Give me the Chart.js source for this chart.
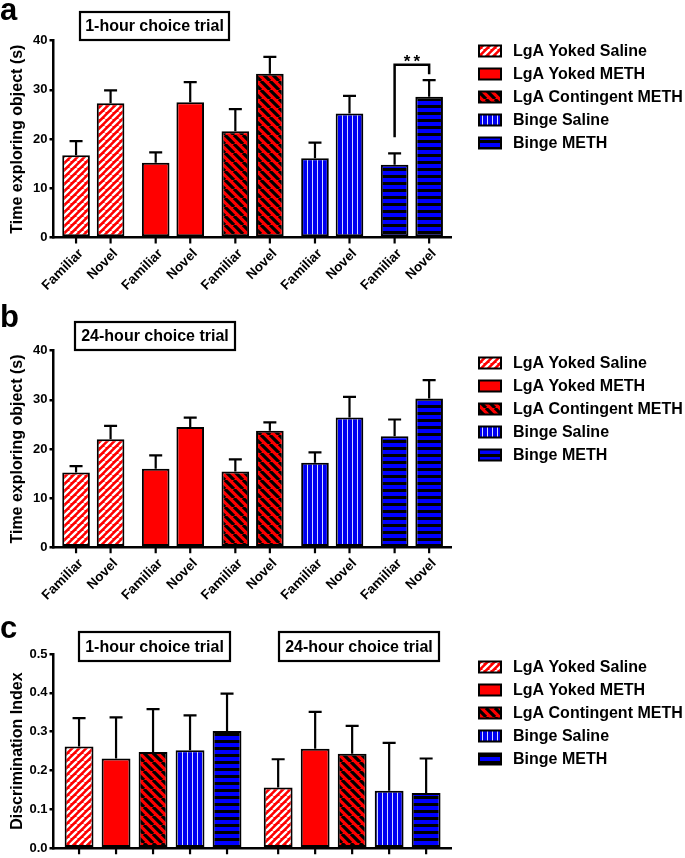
<!DOCTYPE html>
<html>
<head>
<meta charset="utf-8">
<script src="https://cdn.jsdelivr.net/npm/chart.js@4.4.1/dist/chart.umd.min.js"></script>
<style>
  html, body { margin: 0; padding: 0; background: #fff; }
  #wrap { position: relative; width: 685px; height: 858px; overflow: hidden; }
  canvas { position: absolute; left: 0; }
</style>
</head>
<body>
<div id="wrap">
  <canvas id="chartA" width="685" height="300" style="top:0px"></canvas>
  <canvas id="chartB" width="685" height="300" style="top:300px"></canvas>
  <canvas id="chartC" width="685" height="258" style="top:600px"></canvas>
</div>
<script>
var groups = ["LgA Yoked Saline", "LgA Yoked METH", "LgA Contingent METH", "Binge Saline", "Binge METH"];
var objects = ["Familiar", "Novel"];
var trials = ["1-hour choice trial", "24-hour choice trial"];

// a: 1-hour trial, time exploring (s), mean and SEM per group
var hour1Familiar = [16.7, 15.2, 21.6, 16.1, 14.8];
var hour1FamiliarSem = [2.9, 2.1, 4.5, 3.2, 2.3];
var hour1Novel = [27.3, 27.5, 33.3, 25.2, 28.6];
var hour1NovelSem = [2.6, 4.1, 3.4, 3.6, 3.4];

// b: 24-hour trial
var hour24Familiar = [15.2, 16.0, 15.4, 17.2, 22.6];
var hour24FamiliarSem = [1.3, 2.7, 2.5, 2.1, 3.4];
var hour24Novel = [22.0, 24.5, 23.7, 26.4, 30.3];
var hour24NovelSem = [2.7, 1.9, 1.7, 4.2, 3.7];

// c: discrimination index per group, [1-hour, 24-hour]
var discIndex = [[0.262, 0.156], [0.231, 0.256], [0.248, 0.243], [0.252, 0.148], [0.302, 0.142]];
var discSem = [[0.073, 0.073], [0.106, 0.095], [0.110, 0.072], [0.090, 0.123], [0.096, 0.089]];

var timeTicks = [0, 10, 20, 30, 40];
var indexTicks = [0.0, 0.1, 0.2, 0.3, 0.4, 0.5];

var FONT = "'Liberation Sans', Arial, sans-serif";
Chart.defaults.font.family = FONT;
Chart.defaults.color = '#000';

function stripes(ctx, s, bg, fg, w, up) {
  var c = document.createElement('canvas');
  c.width = c.height = s;
  var g = c.getContext('2d');
  g.fillStyle = bg;
  g.fillRect(0, 0, s, s);
  g.strokeStyle = fg;
  g.lineWidth = w;
  g.beginPath();
  for (var k = -1; k <= 1; k++) {
    if (up) { g.moveTo(k * s, s); g.lineTo(k * s + s, 0); }
    else { g.moveTo(k * s, 0); g.lineTo(k * s + s, s); }
  }
  g.stroke();
  return ctx.createPattern(c, 'repeat');
}

function bands(ctx, w, h, bg, fg, vertical) {
  var c = document.createElement('canvas');
  c.width = w; c.height = h;
  var g = c.getContext('2d');
  g.fillStyle = bg;
  g.fillRect(0, 0, w, h);
  g.fillStyle = fg;
  if (vertical) g.fillRect(2, 0, 1, h);
  else g.fillRect(0, 0, w, 3);
  return ctx.createPattern(c, 'repeat');
}

function groupFills(ctx) {
  return [
    stripes(ctx, 7, '#ff0000', '#ffffff', 2.3, true),
    '#ff0000',
    stripes(ctx, 9, '#ff0000', '#000000', 3.2, false),
    bands(ctx, 5, 5, '#0000f0', '#d4d8ff', true),
    bands(ctx, 7, 7, '#0000ff', '#000000', false)
  ];
}

// titles, legend, error bars, ticks under each bar, x labels
var decor = {
  id: 'decor',
  afterDatasetsDraw: function (chart, args, o) {
    var ctx = chart.ctx, y = chart.scales.y, area = chart.chartArea;
    ctx.save();
    ctx.strokeStyle = '#000';
    ctx.fillStyle = '#000';
    ctx.lineWidth = 2.2;
    chart.data.datasets.forEach(function (ds, i) {
      chart.getDatasetMeta(i).data.forEach(function (bar, j) {
        var top = y.getPixelForValue(ds.data[j]);
        var end = y.getPixelForValue(ds.data[j] + o.errors[i][j]);
        ctx.beginPath();
        ctx.moveTo(bar.x, top); ctx.lineTo(bar.x, end);
        ctx.moveTo(bar.x - 6.5, end); ctx.lineTo(bar.x + 6.5, end);
        ctx.moveTo(bar.x, area.bottom); ctx.lineTo(bar.x, area.bottom + 6);
        ctx.stroke();
        if (o.xLabels) {
          ctx.save();
          ctx.translate(bar.x + 5, area.bottom + 14);
          ctx.rotate(-Math.PI / 4);
          ctx.font = 'bold 13.5px ' + FONT;
          ctx.textAlign = 'right';
          ctx.textBaseline = 'middle';
          ctx.fillText(ds.label, 0, 0);
          ctx.restore();
        }
      });
    });

    if (o.bracket) {
      var b = o.bracket;
      var x1 = chart.getDatasetMeta(0).data[b.group].x;
      var x2 = chart.getDatasetMeta(1).data[b.group].x;
      var yt = y.getPixelForValue(b.top);
      ctx.lineWidth = 2.5;
      ctx.beginPath();
      ctx.moveTo(x1, y.getPixelForValue(b.from));
      ctx.lineTo(x1, yt);
      ctx.lineTo(x2, yt);
      ctx.lineTo(x2, y.getPixelForValue(b.to));
      ctx.stroke();
      ctx.font = 'bold 17px ' + FONT;
      ctx.letterSpacing = '3px';
      ctx.textAlign = 'center';
      ctx.textBaseline = 'alphabetic';
      ctx.fillText(b.text, (x1 + x2) / 2 + 1.5, yt + 2);
      ctx.letterSpacing = '0px';
    }

    // panel letter
    ctx.font = 'bold 31px ' + FONT;
    ctx.textAlign = 'left';
    ctx.textBaseline = 'alphabetic';
    ctx.fillText(o.letter, 0, o.letterY);

    // boxed trial titles
    ctx.lineWidth = 2.2;
    ctx.font = 'bold 16px ' + FONT;
    ctx.textAlign = 'center';
    ctx.textBaseline = 'middle';
    o.boxes.forEach(function (bx) {
      ctx.fillStyle = '#fff';
      ctx.fillRect(bx.x, bx.y, bx.w, bx.h);
      ctx.strokeRect(bx.x, bx.y, bx.w, bx.h);
      ctx.fillStyle = '#000';
      ctx.fillText(bx.text, bx.x + bx.w / 2, bx.y + bx.h / 2 + 1);
    });

    // legend
    ctx.textAlign = 'left';
    ctx.lineWidth = 2;
    groups.forEach(function (name, g) {
      var cy = o.legendY + g * 23;
      ctx.fillStyle = o.fills[g];
      ctx.fillRect(479, cy - 5.5, 22, 11);
      ctx.strokeRect(479, cy - 5.5, 22, 11);
      ctx.fillStyle = '#000';
      ctx.fillText(name, 513, cy + 1);
    });
    ctx.restore();
  }
};

function axisY(ticks, title, fmt) {
  return {
    min: ticks[0],
    max: ticks[ticks.length - 1],
    afterFit: function (s) { s.width = 53.5; },
    ticks: {
      stepSize: ticks[1] - ticks[0],
      padding: 2,
      font: { size: 13, weight: 'bold' },
      color: '#000',
      callback: fmt
    },
    grid: { drawOnChartArea: false, drawTicks: true, tickLength: 4, lineWidth: 2.5, tickWidth: 2.5, tickColor: '#000' },
    border: { display: true, color: '#000', width: 2.5 },
    title: { display: true, text: title, font: { size: 16, weight: 'bold' }, color: '#000', padding: { top: 8, bottom: 0 } }
  };
}

function axisX(height) {
  return {
    type: 'category',
    afterFit: function (s) { s.height = height; },
    ticks: { display: false },
    grid: { display: false },
    border: { display: true, color: '#000', width: 2.5 }
  };
}

function timeChart(id, familiar, familiarSem, novel, novelSem, extra) {
  var canvas = document.getElementById(id);
  var fills = groupFills(canvas.getContext('2d'));
  var base = {
    borderColor: '#000',
    borderWidth: 2,
    borderSkipped: false,
    backgroundColor: fills,
    barPercentage: 0.8,
    categoryPercentage: 0.867
  };
  return new Chart(canvas, {
    type: 'bar',
    data: {
      labels: groups,
      datasets: [
        Object.assign({ label: objects[0], data: familiar }, base),
        Object.assign({ label: objects[1], data: novel }, base)
      ]
    },
    options: {
      responsive: false,
      animation: false,
      layout: { padding: { left: 0, top: extra.top, right: 233.3, bottom: 0 } },
      plugins: {
        legend: { display: false },
        tooltip: { enabled: false },
        decor: Object.assign({ errors: [familiarSem, novelSem], fills: fills, xLabels: true }, extra)
      },
      scales: {
        x: axisX(canvas.height - extra.bottom),
        y: axisY(timeTicks, 'Time exploring object (s)', function (v) { return v; })
      }
    },
    plugins: [decor]
  });
}

timeChart('chartA', hour1Familiar, hour1FamiliarSem, hour1Novel, hour1NovelSem, {
  top: 40.7, bottom: 237.5, letter: 'a', letterY: 20, legendY: 51,
  boxes: [{ text: trials[0], x: 80, y: 12, w: 149, h: 28 }],
  bracket: { group: 4, from: 20.4, top: 35.1, to: 33.2, text: '**' }
});

timeChart('chartB', hour24Familiar, hour24FamiliarSem, hour24Novel, hour24NovelSem, {
  top: 50.7, bottom: 247.3, letter: 'b', letterY: 27, legendY: 63,
  boxes: [{ text: trials[1], x: 75, y: 22, w: 160, h: 28 }]
});

(function () {
  var canvas = document.getElementById('chartC');
  var fills = groupFills(canvas.getContext('2d'));
  new Chart(canvas, {
    type: 'bar',
    data: {
      labels: trials,
      datasets: groups.map(function (name, g) {
        return {
          label: name,
          data: discIndex[g],
          backgroundColor: fills[g],
          borderColor: '#000',
          borderWidth: 2,
          borderSkipped: false,
          barPercentage: 0.78,
          categoryPercentage: 0.929
        };
      })
    },
    options: {
      responsive: false,
      animation: false,
      layout: { padding: { left: 0, top: 54, right: 233.3, bottom: 0 } },
      plugins: {
        legend: { display: false },
        tooltip: { enabled: false },
        decor: {
          errors: discSem, fills: fills, xLabels: false,
          letter: 'c', letterY: 38, legendY: 67,
          boxes: [
            { text: trials[0], x: 79, y: 32, w: 151, h: 29 },
            { text: trials[1], x: 279, y: 32, w: 160, h: 29 }
          ]
        }
      },
      scales: {
        x: axisX(258 - 250.7),
        y: axisY(indexTicks, 'Discrimination Index', function (v) { return v.toFixed(1); })
      }
    },
    plugins: [decor]
  });
})();
</script>
</body>
</html>
